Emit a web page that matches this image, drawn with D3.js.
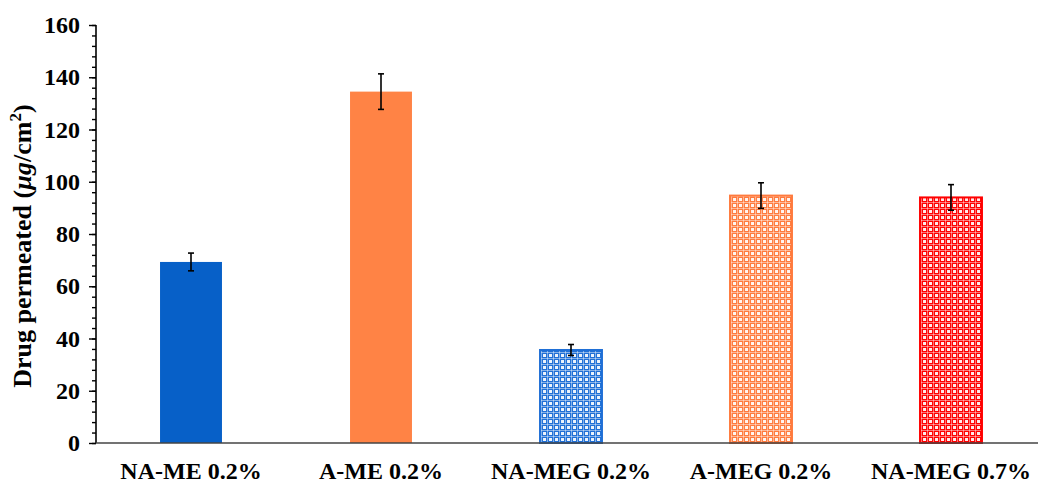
<!DOCTYPE html>
<html>
<head>
<meta charset="utf-8">
<script src="https://cdn.jsdelivr.net/npm/d3@7"></script>
<style>
  html, body { margin: 0; padding: 0; background: #fff; }
  svg { display: block; }
  text { font-family: "Liberation Serif", "Times New Roman", serif; font-weight: bold; fill: #000; }
</style>
</head>
<body>
<svg id="chart" width="1038" height="484"></svg>
<script>
// Formulations and cumulative permeation (µg/cm²) with SD
const categories = ["NA-ME 0.2%", "A-ME 0.2%", "NA-MEG 0.2%", "A-MEG 0.2%", "NA-MEG 0.7%"];
const values = [69.3, 134.5, 35.6, 94.7, 94.0];
const errors = [3.4, 6.8, 2.1, 4.9, 4.9];
const yTicks = [0, 20, 40, 60, 80, 100, 120, 140, 160];

// Appearance per bar: solid fill or checked grid pattern
const barColors = ["#0760C8", "#FF8345", "#1F6FD6", "#FF7A3D", "#FF0000"];
const barPatterned = [false, false, true, true, true];

const svg = d3.select("#chart");
const margin = { left: 96, right: -8, top: 25, bottom: 41 };
const W = 1038, H = 484;

const x = d3.scaleBand()
  .domain(categories)
  .range([margin.left, W - margin.right])
  .paddingInner(0.674)
  .paddingOuter(0.337);

const y = d3.scaleLinear()
  .domain([0, 160])
  .range([H - margin.bottom, margin.top]);

// Grid patterns for the gel formulations
const defs = svg.append("defs");
categories.forEach((c, i) => {
  if (!barPatterned[i]) return;
  const p = defs.append("pattern")
    .attr("id", "grid" + i)
    .attr("patternUnits", "userSpaceOnUse")
    .attr("width", 6).attr("height", 6)
    .attr("x", x(c) + 2).attr("y", 0);
  p.append("rect").attr("width", 6).attr("height", 6).attr("fill", barColors[i]);
  p.append("rect").attr("x", 0).attr("y", 4).attr("width", 6).attr("height", 1)
    .attr("fill", "#fff").attr("opacity", 0.45);
  p.append("rect").attr("x", 5).attr("y", 0).attr("width", 1).attr("height", 6)
    .attr("fill", "#fff").attr("opacity", 0.45);
  p.append("rect").attr("x", 1).attr("y", 0).attr("width", 3).attr("height", 3)
    .attr("fill", "#fff").attr("opacity", 0.92);
});

// Bars
svg.append("g").selectAll("rect")
  .data(categories)
  .join("rect")
  .attr("x", d => x(d))
  .attr("y", (d, i) => y(values[i]))
  .attr("width", x.bandwidth())
  .attr("height", (d, i) => y(0) - y(values[i]))
  .attr("fill", (d, i) => barPatterned[i] ? `url(#grid${i})` : barColors[i])
  .attr("stroke", (d, i) => barPatterned[i] ? barColors[i] : "none")
  .attr("stroke-width", 2);

// Error bars
const eb = svg.append("g").attr("stroke", "#000").attr("stroke-width", 1.6);
categories.forEach((c, i) => {
  const cx = x(c) + x.bandwidth() / 2;
  const top = y(values[i] + errors[i]);
  const bot = y(values[i] - errors[i]);
  eb.append("line").attr("x1", cx).attr("x2", cx).attr("y1", top).attr("y2", bot);
  eb.append("line").attr("x1", cx - 3).attr("x2", cx + 3).attr("y1", top).attr("y2", top);
  eb.append("line").attr("x1", cx - 3).attr("x2", cx + 3).attr("y1", bot).attr("y2", bot);
});

// Y axis with minor ticks every 4 units
const yAxis = svg.append("g")
  .attr("transform", `translate(${margin.left},0)`);
yAxis.append("g")
  .call(d3.axisLeft(y).tickValues(d3.range(0, 161, 4)).tickSize(4).tickFormat(""))
  .call(g => g.select(".domain").remove())
  .selectAll("line").attr("stroke", "#000").attr("stroke-width", 1.4);
yAxis.append("g")
  .call(d3.axisLeft(y).tickValues(yTicks).tickSize(7).tickPadding(9).tickFormat(d3.format("d")))
  .call(g => g.select(".domain").attr("stroke", "#000").attr("stroke-width", 1.6).attr("d", `M0,${y(160)}V${y(0)}`))
  .call(g => g.selectAll("line").attr("stroke", "#000").attr("stroke-width", 1.4))
  .call(g => g.selectAll("text")
    .attr("font-size", 24)
    .attr("font-family", "Liberation Serif, Times New Roman, serif")
    .attr("font-weight", "bold"));

// X axis baseline and category labels
svg.append("line")
  .attr("x1", margin.left).attr("x2", W)
  .attr("y1", y(0)).attr("y2", y(0))
  .attr("stroke", "#444").attr("stroke-width", 1.3);

svg.append("g").selectAll("text")
  .data(categories)
  .join("text")
  .attr("x", d => x(d) + x.bandwidth() / 2)
  .attr("y", 479)
  .attr("text-anchor", "middle")
  .attr("font-size", 24)
  .text(d => d);

// Y axis title
const title = svg.append("text")
  .attr("transform", "translate(31,246) rotate(-90)")
  .attr("text-anchor", "middle")
  .attr("font-size", 26);
title.append("tspan").text("Drug permeated (");
title.append("tspan").attr("font-style", "italic").text("µg");
title.append("tspan").text("/cm");
title.append("tspan").attr("font-size", 17).attr("dy", -10).text("2");
title.append("tspan").attr("dy", 10).text(")");
</script>
</body>
</html>
